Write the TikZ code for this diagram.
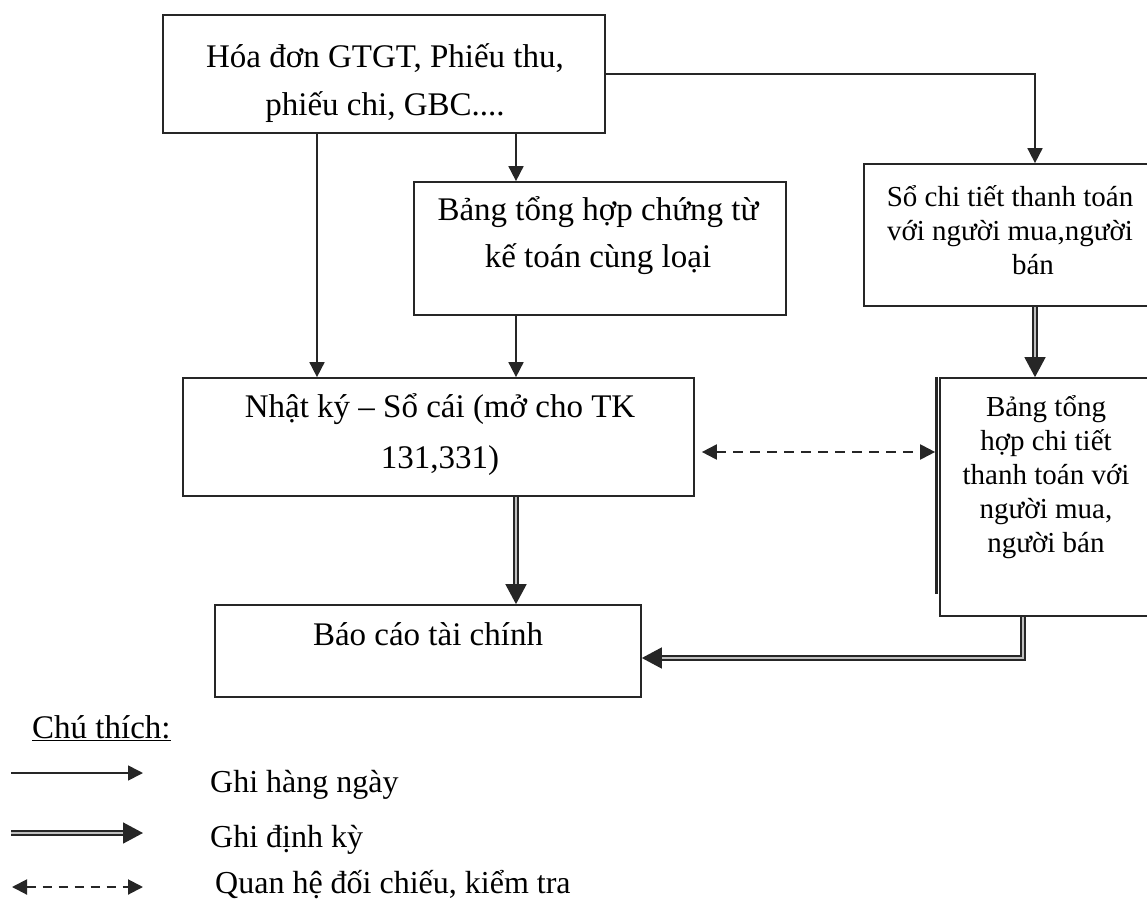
\documentclass[tikz,border=0pt]{standalone}
\usepackage{fontspec}
\setmainfont{Liberation Serif}
\usetikzlibrary{arrows.meta}

\tikzset{
  box/.style={draw=black!85, line width=1.7pt, fill=white, inner sep=0pt},
  bigtxt/.style={align=center, inner sep=0pt, font=\fontsize{33}{#1}\selectfont},
  smalltxt/.style={align=center, inner sep=0pt, font=\fontsize{29}{34}\selectfont},
  legendtxt/.style={anchor=base west, inner sep=0pt, font=\fontsize{32}{38}\selectfont},
  daily/.style={draw=black!85, line width=1.7pt, -{Triangle[length=15pt,width=15pt]}},
  periodic/.style={draw=black!85, line width=1.6pt, double=white!75!black, double distance=2pt,
    -{Triangle[length=20pt,width=21pt]}},
  crosscheck/.style={draw=black!85, line width=2pt, dash pattern=on 10pt off 7pt,
    {Triangle[length=15pt,width=15pt]}-{Triangle[length=15pt,width=15pt]}}
}

\begin{document}
\begin{tikzpicture}[x=1pt, y=-1pt]
\useasboundingbox (0,0) rectangle (1147,901);
\clip (0,0) rectangle (1147,901);

% column and row positions of the connectors
\coordinate (xa) at (317,0);
\coordinate (xb) at (516,0);
\coordinate (xc) at (1035,0);
\coordinate (xd) at (1023,0);
\coordinate (ye) at (0,452);
\coordinate (yf) at (0,658);

% boxes
\node[box, minimum width=442pt, minimum height=118pt] (hoadon) at (384,74) {};
\node[bigtxt=48] (hoadonT) at (385,83) {Hóa đơn GTGT, Phiếu thu,\\phiếu chi, GBC....};

\node[box, minimum width=372pt, minimum height=133pt] (chungtu) at (600,248.5) {};
\node[bigtxt=47] (chungtuT) at (598,236) {Bảng tổng hợp chứng từ\\kế toán cùng loại};

\node[box, minimum width=511pt, minimum height=118pt] (nhatky) at (438.5,437) {};
\node[bigtxt=51] (nhatkyT) at (440,435) {Nhật ký – Sổ cái (mở cho TK\\131,331)};

\node[box, minimum width=426pt, minimum height=92pt] (bctc) at (428,651) {};
\node[bigtxt=40, anchor=base] (bctcT) at (428,645) {Báo cáo tài chính};

\node[box, minimum width=292pt, minimum height=142pt] (sochitiet) at (1010,235) {};
\node[smalltxt] (sochitietT) at (1010,230) {Sổ chi tiết thanh toán\\với người mua,người\\\hspace*{46pt}bán};

\node[box, minimum width=212pt, minimum height=238pt] (bangth) at (1046,497) {};
\node[smalltxt] (bangthT) at (1046,477) {Bảng tổng\\hợp chi tiết\\thanh toán với\\người mua,\\người bán};
% heavier left edge of the summary table
\draw[line width=2.6pt, draw=black!85] ([xshift=-2.6pt]bangth.north west) -- ([xshift=-2.6pt, yshift=23pt]bangth.south west);

% daily entries
\draw[daily] (xa |- hoadon.south) -- (xa |- nhatky.north);
\draw[daily] (xb |- hoadon.south) -- (xb |- chungtu.north);
\draw[daily] (xb |- chungtu.south) -- (xb |- nhatky.north);
\draw[daily] (hoadon.east) -| (xc |- sochitiet.north);

% periodic entries
\draw[periodic] (xc |- sochitiet.south) -- (xc |- bangth.north);
\draw[periodic] (xb |- nhatky.south) -- (xb |- bctc.north);
\draw[periodic] (xd |- bangth.south) |- (bctc.east |- yf);

% cross-checking
\draw[crosscheck, shorten <=7pt, shorten >=4pt] (nhatky.east |- ye) -- (bangth.west |- ye);

% legend
\node[anchor=base west, inner sep=0pt, font=\fontsize{33}{40}\selectfont] (chuthich) at (32,738) {\underline{Chú thích:}};

\coordinate (l1a) at (11,773);  \coordinate (l1b) at (143,773);
\coordinate (l2a) at (11,833);  \coordinate (l2b) at (143,833);
\coordinate (l3a) at (12,887);  \coordinate (l3b) at (143,887);
\draw[daily] (l1a) -- (l1b);
\draw[periodic] (l2a) -- (l2b);
\draw[crosscheck, dash pattern=on 9pt off 7pt] (l3a) -- (l3b);

\node[legendtxt] (lg1) at (210,792) {Ghi hàng ngày};
\node[legendtxt] (lg2) at (210,847) {Ghi định kỳ};
\node[legendtxt] (lg3) at (215,893) {Quan hệ đối chiếu, kiểm tra};
\end{tikzpicture}
\end{document}
